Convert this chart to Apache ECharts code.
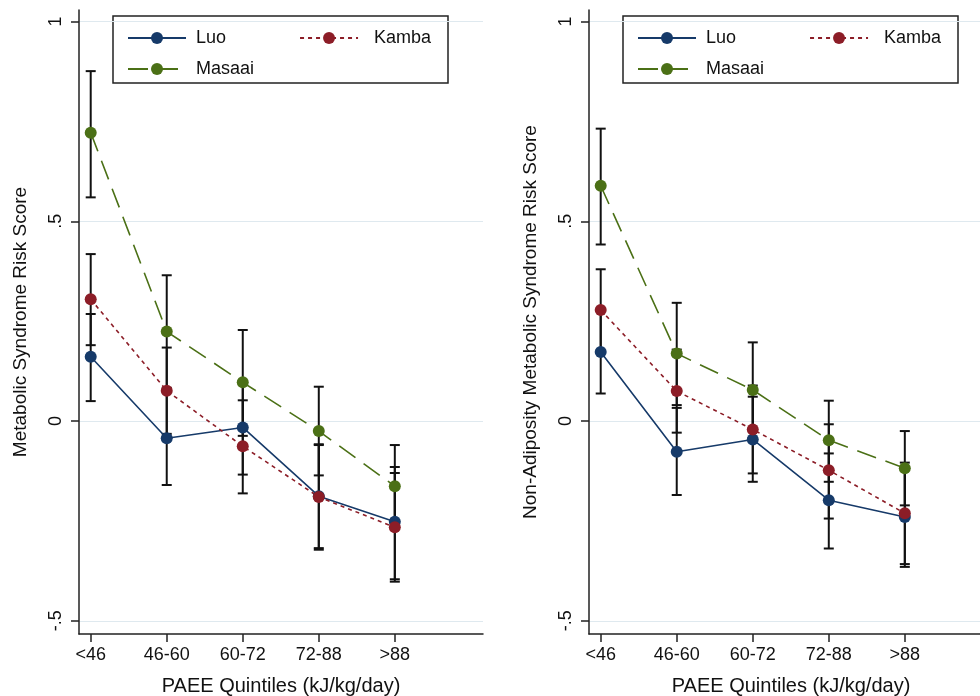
<!DOCTYPE html>
<html>
<head>
<meta charset="utf-8">
<script src="https://cdn.jsdelivr.net/npm/echarts@6/dist/echarts.min.js"></script>
<style>html,body{margin:0;padding:0;background:#fff}#c{width:980px;height:696px}</style>
</head>
<body>
<div id="c"></div>
<script>
// ---- data ----
const categories = ['<46', '46-60', '60-72', '72-88', '>88'];
const yTickValues = [-0.5, 0, 0.5, 1];
const yTickLabels = ['-.5', '0', '.5', '1'];
const seriesNames = ['Luo', 'Kamba', 'Masaai'];
const xTitle = 'PAEE Quintiles (kJ/kg/day)';
const yTitleLeft = 'Metabolic Syndrome Risk Score';
const yTitleRight = 'Non-Adiposity Metabolic Syndrome Risk Score';

// Left panel: Metabolic Syndrome Risk Score
const luoL     = [0.161, -0.043, -0.016, -0.188, -0.252];
const luoLlo   = [0.050, -0.160, -0.134, -0.318, -0.396];
const luoLhi   = [0.268,  0.074,  0.100, -0.058, -0.115];
const kambaL   = [0.305,  0.076, -0.063, -0.190, -0.266];
const kambaLlo = [0.190, -0.032, -0.181, -0.322, -0.402];
const kambaLhi = [0.418,  0.184,  0.052, -0.060, -0.130];
const masaaiL   = [0.722, 0.224,  0.097, -0.025, -0.163];
const masaaiLlo = [0.560, 0.083, -0.037, -0.136, -0.266];
const masaaiLhi = [0.876, 0.365,  0.228,  0.086, -0.060];

// Right panel: Non-Adiposity Metabolic Syndrome Risk Score
const luoR     = [0.173, -0.077, -0.046, -0.198, -0.240];
const luoRlo   = [0.069, -0.185, -0.152, -0.319, -0.365];
const luoRhi   = [0.277,  0.033,  0.061, -0.081, -0.115];
const kambaR   = [0.278,  0.075, -0.021, -0.123, -0.231];
const kambaRlo = [0.176, -0.029, -0.131, -0.244, -0.358];
const kambaRhi = [0.380,  0.179,  0.089, -0.008, -0.104];
const masaaiR   = [0.589, 0.169,  0.078, -0.048, -0.118];
const masaaiRlo = [0.442, 0.040, -0.042, -0.152, -0.211];
const masaaiRhi = [0.732, 0.296,  0.197,  0.051, -0.025];

// ---- styling ----
const FONT = '"Liberation Sans", Arial, Helvetica, sans-serif';
const colors = { Luo: '#163a69', Kamba: '#8c1d27', Masaai: '#4b7016' };
const lineTypes = { Luo: 'solid', Kamba: [4, 4], Masaai: [20, 10] };
const xIdx = categories.map((c, i) => i);

function makeAxes(g, yTitle) {
  return {
    x: {
      type: 'value', gridIndex: g, min: -0.154, max: 5.16,
      axisLine: { show: true, onZero: false, lineStyle: { color: '#222', width: 1.5 } },
      axisTick: { show: true, customValues: xIdx, length: 8, lineStyle: { color: '#222', width: 1.5 } },
      axisLabel: { customValues: xIdx, formatter: v => categories[Math.round(v)], fontSize: 18, color: '#111', fontFamily: FONT, margin: 12 },
      splitLine: { show: false },
      name: xTitle, nameLocation: 'middle', nameGap: 42,
      nameTextStyle: { fontSize: 20, color: '#111', fontFamily: FONT }
    },
    y: {
      type: 'value', gridIndex: g, min: -0.533, max: 1.029,
      axisLine: { show: true, onZero: false, lineStyle: { color: '#222', width: 1.5 } },
      axisTick: { show: true, customValues: yTickValues, length: 8, lineStyle: { color: '#222', width: 1.5 } },
      axisLabel: {
        customValues: yTickValues, rotate: 90, margin: 14,
        formatter: v => { const k = yTickValues.findIndex(t => Math.abs(t - v) < 1e-9); return k >= 0 ? yTickLabels[k] : ''; },
        fontSize: 18, color: '#111', fontFamily: FONT
      },
      splitLine: { show: true, lineStyle: { color: '#dfe9ef', width: 1.2 } },
      name: yTitle, nameLocation: 'middle', nameGap: 49, nameRotate: 90,
      nameTextStyle: { fontSize: 19, color: '#111', fontFamily: FONT }
    }
  };
}

function errSeries(g, lo, hi) {
  return {
    type: 'custom', xAxisIndex: g, yAxisIndex: g, z: 1, silent: true,
    data: xIdx.map(i => [i, lo[i], hi[i]]),
    encode: { x: 0, y: [1, 2] },
    renderItem: function (params, api) {
      const x = api.value(0);
      const p1 = api.coord([x, api.value(1)]);
      const p2 = api.coord([x, api.value(2)]);
      const hw = 5;
      const st = { stroke: '#111', lineWidth: 2 };
      return {
        type: 'group',
        children: [
          { type: 'line', shape: { x1: p1[0], y1: p1[1], x2: p2[0], y2: p2[1] }, style: st },
          { type: 'line', shape: { x1: p1[0] - hw, y1: p1[1], x2: p1[0] + hw, y2: p1[1] }, style: st },
          { type: 'line', shape: { x1: p2[0] - hw, y1: p2[1], x2: p2[0] + hw, y2: p2[1] }, style: st }
        ]
      };
    }
  };
}

function lineSeries(g, name, vals) {
  return {
    type: 'line', name: name, xAxisIndex: g, yAxisIndex: g, z: 3,
    data: xIdx.map(i => [i, vals[i]]),
    symbol: 'circle', symbolSize: 12, showSymbol: true,
    itemStyle: { color: colors[name] },
    lineStyle: { color: colors[name], width: 1.6, type: lineTypes[name] },
    emphasis: { disabled: true }, animation: false
  };
}

const A0 = makeAxes(0, yTitleLeft);
const A1 = makeAxes(1, yTitleRight);

function legends(x0) {
  const common = {
    orient: 'horizontal', itemWidth: 58, itemHeight: 15, itemGap: 73,
    selectedMode: false,
    textStyle: { fontSize: 18, color: '#111', fontFamily: FONT, padding: [0, 0, 0, 5] }
  };
  return [
    Object.assign({}, common, {
      data: ['Luo', { name: 'Kamba', textStyle: { padding: [0, 0, 0, 11] } }],
      left: x0, top: 24
    }),
    Object.assign({}, common, { data: ['Masaai'], left: x0, top: 55 })
  ];
}

const option = {
  backgroundColor: '#fff',
  animation: false,
  textStyle: { fontFamily: FONT },
  grid: [
    { left: 79, top: 10, width: 404, height: 624, outerBoundsMode: 'none', containLabel: false },
    { left: 589, top: 10, width: 404, height: 624, outerBoundsMode: 'none', containLabel: false }
  ],
  xAxis: [A0.x, A1.x],
  yAxis: [A0.y, A1.y],
  legend: legends(122).concat(legends(632)),
  graphic: [
    { type: 'rect', shape: { x: 113, y: 16, width: 335, height: 67 }, style: { fill: '#fff', stroke: '#222', lineWidth: 1.5 }, z: 0 },
    { type: 'rect', shape: { x: 623, y: 16, width: 335, height: 67 }, style: { fill: '#fff', stroke: '#222', lineWidth: 1.5 }, z: 0 }
  ],
  series: [
    errSeries(0, luoLlo, luoLhi), errSeries(0, kambaLlo, kambaLhi), errSeries(0, masaaiLlo, masaaiLhi),
    lineSeries(0, 'Luo', luoL), lineSeries(0, 'Kamba', kambaL), lineSeries(0, 'Masaai', masaaiL),
    errSeries(1, luoRlo, luoRhi), errSeries(1, kambaRlo, kambaRhi), errSeries(1, masaaiRlo, masaaiRhi),
    lineSeries(1, 'Luo', luoR), lineSeries(1, 'Kamba', kambaR), lineSeries(1, 'Masaai', masaaiR)
  ]
};

const chart = echarts.init(document.getElementById('c'), null, { renderer: 'canvas' });
chart.setOption(option);
</script>
</body>
</html>
